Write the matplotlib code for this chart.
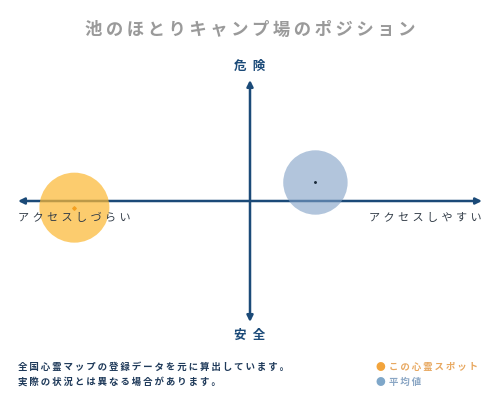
import matplotlib
matplotlib.use('Agg')
import matplotlib.pyplot as plt

plt.rcParams['font.family'] = ['Noto Sans CJK JP', 'DejaVu Sans']

# data: position in the access (x) / danger (y) plane, -1..1
spot_names = ['この心霊スポット', '平均値']
spot_x = [-0.757, 0.282]
spot_y = [-0.055, 0.153]
spot_size = [2540, 2150]
spot_colors = ['#fbb936', '#7f9fc5']
spot_alpha = [0.72, 0.6]
dot_colors = ['#f5a020', '#1a2a3a']

title = '池のほとりキャンプ場のポジション'
y_labels = ['安全', '危険']
x_labels = ['アクセスしづらい', 'アクセスしやすい']
notes = ['全国心霊マップの登録データを元に算出しています。',
         '実際の状況とは異なる場合があります。']
legend_text_colors = ['#e8a860', '#8aa6c4']
legend_bullet_colors = ['#f2a43c', '#7fa7c9']

NAVY = '#1b4a78'


def spaced(s, sep='\u2009'):
    return sep.join(s)


fig = plt.figure(figsize=(5, 4), dpi=100)
ax = fig.add_axes([18 / 500, 78 / 400, 464 / 500, 242 / 400])
ax.set_xlim(-1, 1)
ax.set_ylim(-1, 1)
ax.axis('off')

# axes arrows
arrow = dict(arrowstyle='<|-|>', color=NAVY, lw=1.8, mutation_scale=9,
             shrinkA=0, shrinkB=0)
ax.annotate('', xy=(1, 0), xytext=(-1, 0), arrowprops=arrow, zorder=1)
ax.annotate('', xy=(0, 1), xytext=(0, -1), arrowprops=arrow, zorder=1)

# circles with a small centre mark
for x, y, s, c, a, dc in zip(spot_x, spot_y, spot_size, spot_colors, spot_alpha, dot_colors):
    ax.scatter(x, y, s=s, color=c, alpha=a, edgecolors='none', zorder=2)
    ax.scatter(x, y, s=3 if dc != '#1a2a3a' else 1.2, color=dc,
               marker='D' if dc != '#1a2a3a' else 'o', zorder=3)

# axis labels
ax.text(0, 1.06, spaced(y_labels[1], '\u2002'), ha='center', va='bottom', color=NAVY,
        fontsize=9, fontweight='bold')
ax.text(0, -1.06, spaced(y_labels[0], '\u2002'), ha='center', va='top', color=NAVY,
        fontsize=9, fontweight='bold')
ax.text(-1, -0.1, spaced(x_labels[0], '\u2009\u200a'), ha='left', va='top', color='#333d48',
        fontsize=8, zorder=4)
ax.text(1, -0.1, spaced(x_labels[1], '\u2009\u200a'), ha='right', va='top', color='#333d48',
        fontsize=8, zorder=4)

# title
fig.text(0.5, 1 - 30 / 400, spaced(title), ha='center', va='center',
         color='#9a9a9a', fontsize=12.5, fontweight='bold')

# footnotes
for i, line in enumerate(notes):
    fig.text(18 / 500, 1 - (367 + 15 * i) / 400, spaced(line), ha='left', va='center',
             color='#1f3a5a', fontsize=6.8, fontweight='bold')

# legend
for i, name in enumerate(spot_names):
    yy = 1 - (367 + 15 * i) / 400
    fig.text(376 / 500, yy, '●', ha='left', va='center',
             color=legend_bullet_colors[i], fontsize=7)
    fig.text(389 / 500, yy, spaced(name), ha='left', va='center',
             color=legend_text_colors[i], fontsize=6.8, fontweight='bold')

fig.savefig('out.png', dpi=100, facecolor='white')
